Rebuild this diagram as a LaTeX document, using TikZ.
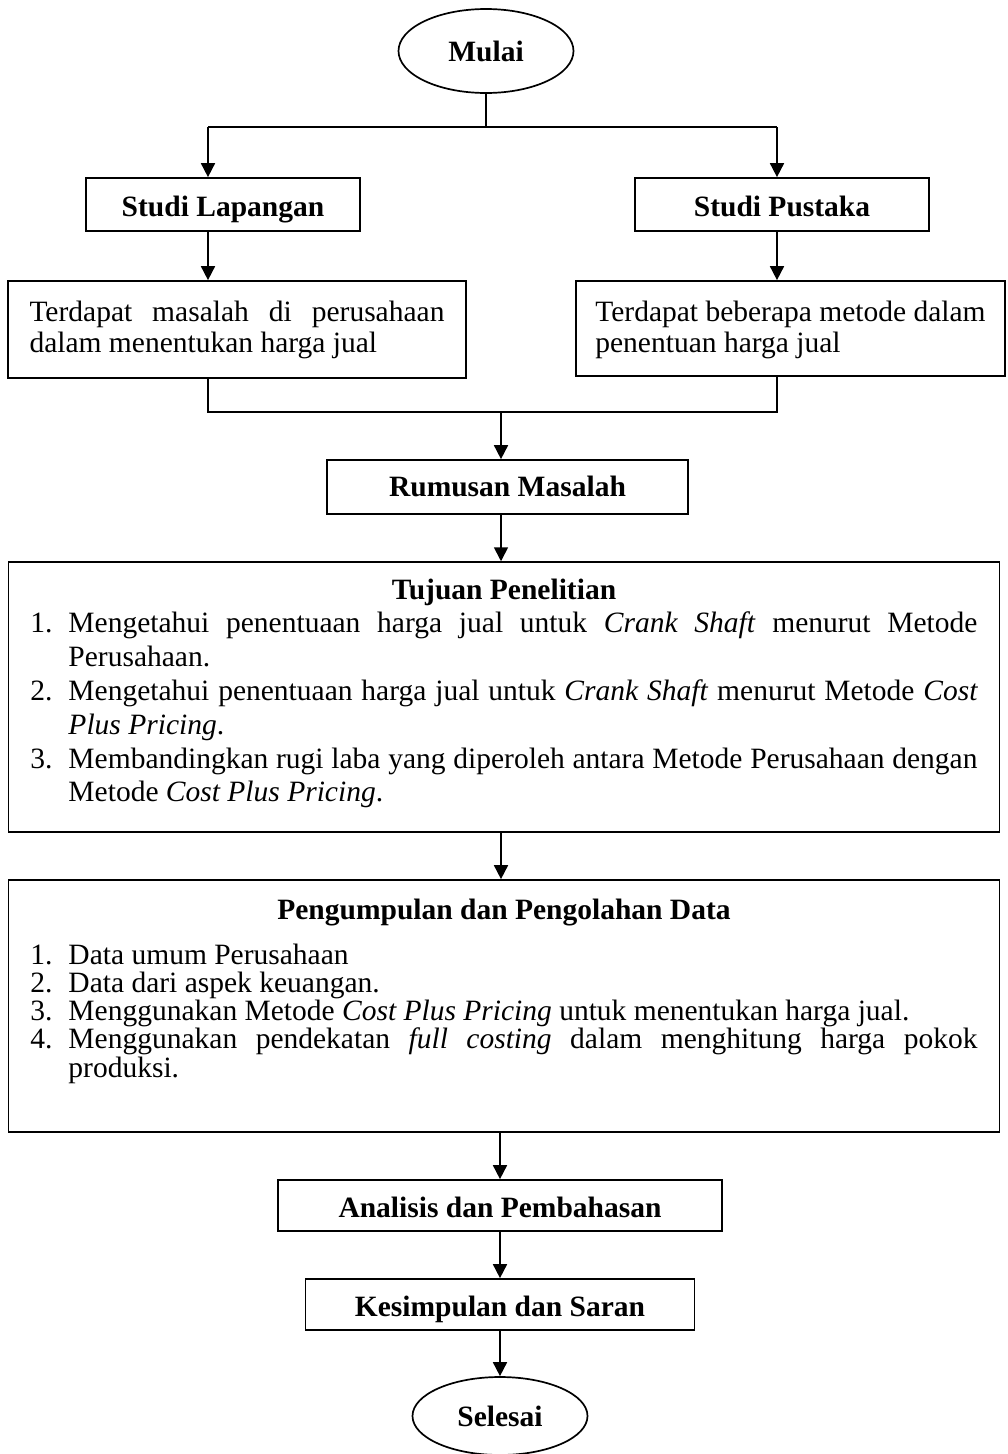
\documentclass[tikz,border=0pt]{standalone}
\usepackage{fontspec}
\setmainfont{Liberation Serif}
\usetikzlibrary{shapes.geometric,arrows.meta}

\setlength{\parindent}{0pt}
\tolerance=10000
\hyphenpenalty=10000
\exhyphenpenalty=10000
\newcommand{\penyangga}[2]{\rule[-#2]{0pt}{\dimexpr #1+#2\relax}}
\newcommand{\butir}[2]{\noindent\hangindent=38pt\hangafter=1\makebox[38pt][l]{#1}#2\par}

\begin{document}
\begin{tikzpicture}[x=1pt,y=-1pt,
    garis/.style={line width=1.7pt},
    panah/.style={garis,-{Triangle[length=14pt,width=14pt]}},
    teks/.style={font={\fontsize{29.5pt}{#1}\selectfont}},
    kotak/.style={draw=black,garis,inner xsep=0pt,inner ysep=0pt},
    oval/.style={shape=ellipse,draw=black,garis,inner sep=0pt,minimum width=175pt,teks=31pt}]
  \useasboundingbox (0,0) rectangle (1007,1454);

  \node[oval,minimum height=84pt] (mulai) at (486,51) {\bfseries Mulai};

  \node[kotak,minimum width=274pt,minimum height=53pt,teks=31pt] (lap) at (223,204.5) {\penyangga{38pt}{15pt}\bfseries Studi Lapangan};
  \node[kotak,minimum width=294pt,minimum height=53pt,teks=31pt] (pus) at (782,204.5) {\penyangga{38pt}{15pt}\bfseries Studi Pustaka};

  \node[kotak,text width=415pt,inner xsep=21.5pt,align=justify,teks=31pt] (masL) at (237,329.5)
    {\penyangga{40pt}{0pt}Terdapat masalah di perusahaan dalam menentukan harga jual\penyangga{0pt}{26pt}};
  \node[kotak,minimum width=429pt,align=left,teks=31pt] (masR) at (790.5,328.5)
    {\penyangga{40pt}{0pt}Terdapat beberapa metode dalam\\penentuan harga jual\penyangga{0pt}{24pt}};

  \node[kotak,minimum width=361pt,minimum height=54pt,teks=31pt] (rum) at (507.5,487) {\penyangga{36pt}{18pt}\bfseries Rumusan Masalah};

  \node[kotak,text width=947pt,inner xsep=22pt,align=justify,teks=33.8pt] (tuj) at (504,697) {
    {\centering\penyangga{37pt}{0pt}\bfseries Tujuan Penelitian\par}
    \butir{1.}{Mengetahui penentuaan harga jual untuk \textit{Crank Shaft} menurut Metode Perusahaan.}
    \butir{2.}{Mengetahui penentuaan harga jual untuk \textit{Crank Shaft} menurut Metode \textit{Cost Plus Pricing}.}
    \butir{3.}{Membandingkan rugi laba yang diperoleh antara Metode Perusahaan dengan Metode \textit{Cost Plus Pricing}.\penyangga{0pt}{30pt}}};

  \node[kotak,text width=947pt,inner xsep=22pt,align=justify,teks=28.25pt] (kumpul) at (504,1006) {
    {\centering\penyangga{39pt}{0pt}\bfseries Pengumpulan dan Pengolahan Data\par}
    \vspace{16.75pt}
    \butir{1.}{Data umum Perusahaan}
    \butir{2.}{Data dari aspek keuangan.}
    \butir{3.}{Menggunakan Metode \textit{Cost Plus Pricing} untuk menentukan harga jual.}
    \butir{4.}{Menggunakan pendekatan \textit{full costing} dalam menghitung harga pokok produksi.\penyangga{0pt}{55pt}}};

  \node[kotak,minimum width=444pt,minimum height=51pt,teks=31pt] (analisis) at (500,1205.5) {\penyangga{37pt}{14pt}\bfseries Analisis dan Pembahasan};
  \node[kotak,minimum width=389pt,minimum height=51pt,teks=31pt] (kesimpulan) at (500,1304.5) {\penyangga{37pt}{14pt}\bfseries Kesimpulan dan Saran};

  \node[oval,minimum height=78pt] (selesai) at (500,1416) {\bfseries Selesai};

  \coordinate (kiri) at (208,127);
  \coordinate (kanan) at (777,127);
  \coordinate (gabung) at (501,412);

  \draw[garis] (mulai) -- (mulai |- kiri);
  \draw[garis] (kiri) -- (kanan);
  \draw[panah] (kiri) -- (kiri |- lap.north);
  \draw[panah] (kanan) -- (kanan |- pus.north);
  \draw[panah] (kiri |- lap.south) -- (kiri |- masL.north);
  \draw[panah] (kanan |- pus.south) -- (kanan |- masR.north);
  \draw[garis] (kiri |- masL.south) -- (kiri |- gabung) -- (kanan |- gabung) -- (kanan |- masR.south);
  \draw[panah] (gabung) -- (gabung |- rum.north);
  \draw[panah] (gabung |- rum.south) -- (gabung |- tuj.north);
  \draw[panah] (gabung |- tuj.south) -- (gabung |- kumpul.north);
  \draw[panah] (kumpul.south -| analisis) -- (analisis);
  \draw[panah] (analisis) -- (kesimpulan);
  \draw[panah] (kesimpulan) -- (selesai);

\end{tikzpicture}
\end{document}
